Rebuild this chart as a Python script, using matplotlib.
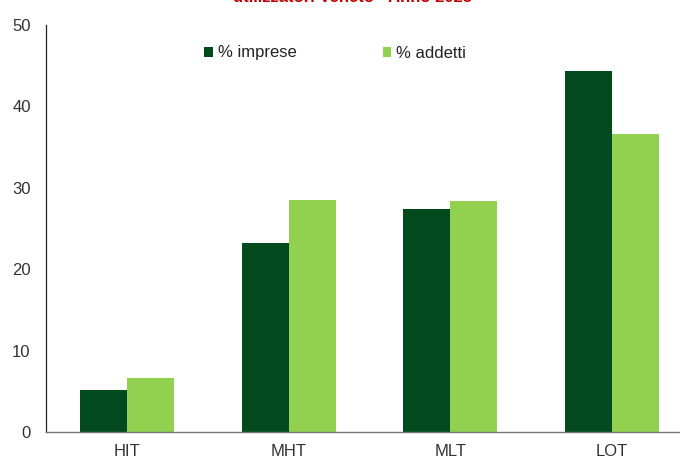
import matplotlib
matplotlib.use('Agg')

import numpy as np
import matplotlib.pyplot as plt

categories = ['HIT', 'MHT', 'MLT', 'LOT']
imprese = [5.2, 23.2, 27.4, 44.4]
addetti = [6.6, 28.5, 28.4, 36.6]

dark = '#024a1d'
light = '#92d050'

plt.rcParams['font.family'] = ['Liberation Sans', 'DejaVu Sans']

fig = plt.figure(figsize=(6.8, 4.58), dpi=100)
W, H = 680, 458
# axes runs past the right edge of the picture, as in the original crop
ax = fig.add_axes([46 / W, 26 / H, (693 - 46) / W, (432 - 25) / H])

x = np.arange(len(categories))
w = 0.29
ax.bar(x - w / 2, imprese, w, color=dark, label='% imprese')
ax.bar(x + w / 2, addetti, w, color=light, label='% addetti')

ax.set_xlim(-0.5, 3.5)
ax.set_ylim(0, 50)
ax.set_yticks(range(0, 51, 10))
ax.set_xticks(x)
ax.set_xticklabels(categories)
ax.tick_params(axis='both', length=0, labelsize=12, colors='#333333')
ax.tick_params(axis='y', pad=11)
ax.tick_params(axis='x', pad=9)

for s in ['top', 'right']:
    ax.spines[s].set_visible(False)
ax.spines['left'].set_color('#222222')
ax.spines['left'].set_linewidth(0.9)
ax.spines['bottom'].set_color('#777777')
ax.spines['bottom'].set_linewidth(1.0)

ax.legend(ncol=2, loc='center left', bbox_to_anchor=(196 / W, 1 - 53 / H),
          bbox_transform=fig.transFigure, frameon=False, fontsize=12,
          handlelength=0.5, handleheight=0.55, handletextpad=0.3,
          columnspacing=5.2, borderpad=0, labelcolor='#222222')

# title cut off at the top of the original image
fig.text(352 / W, 1 - 2 / H, 'utilizzatori Veneto - Anno 2023', color='#c00000',
         fontsize=12, fontweight='bold', ha='center', va='baseline')

fig.savefig('out.png', dpi=100)
